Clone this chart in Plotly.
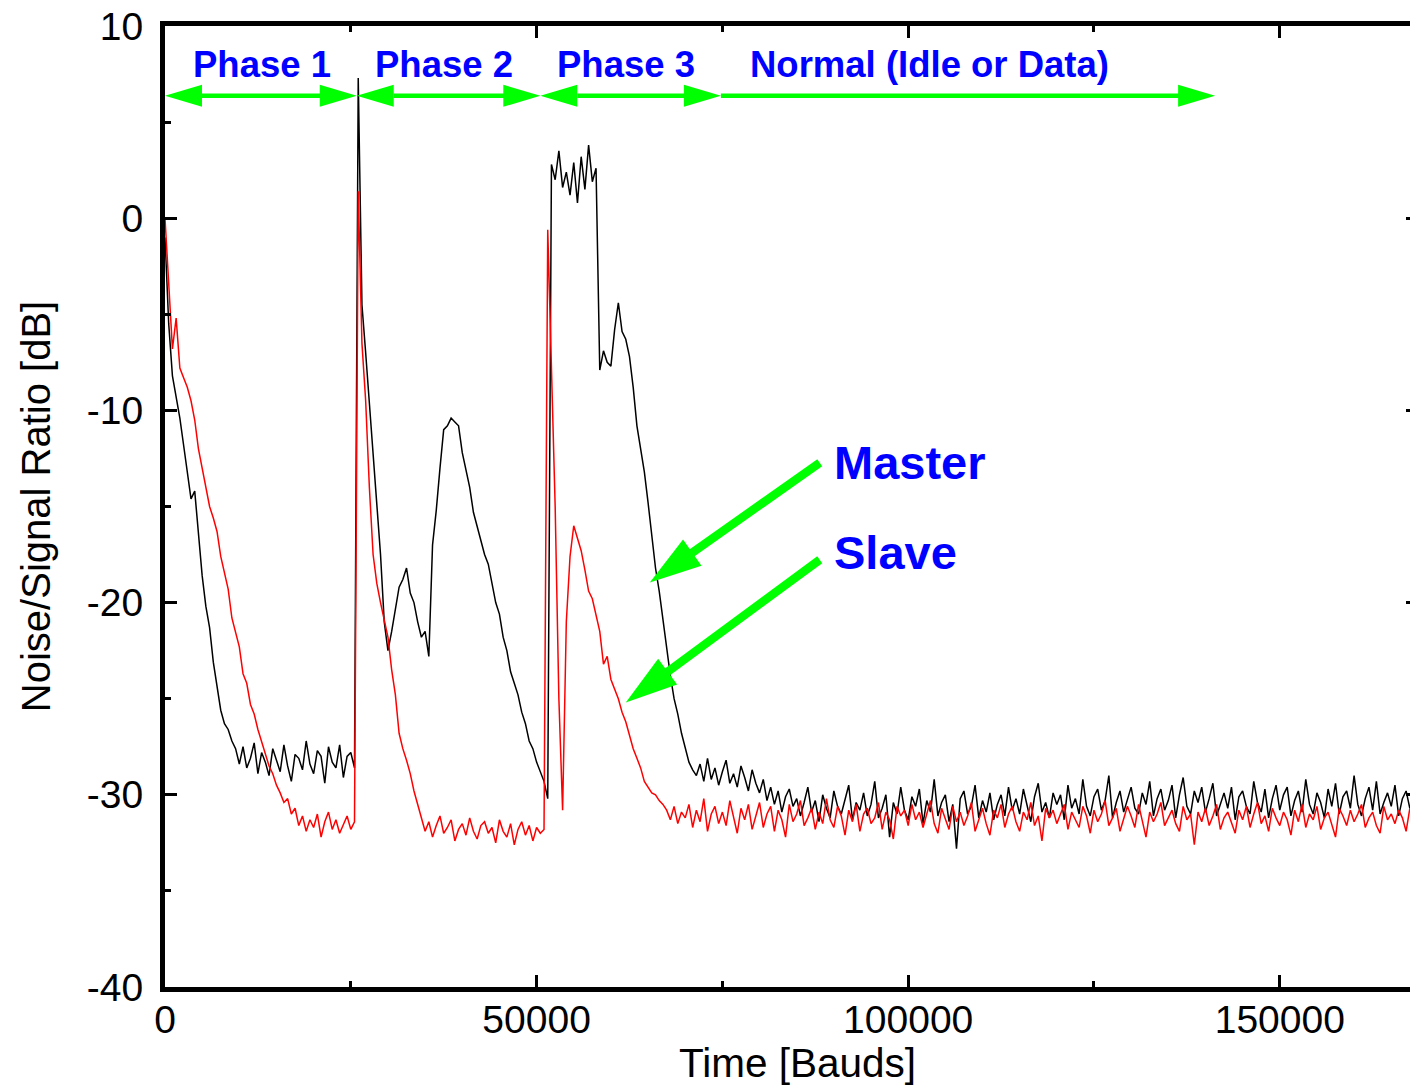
import plotly.graph_objects as go

# ---------------- data ----------------
TIME_STEP = 500  # bauds between samples

master_db = [
    -1.0, -5.5, -8.2, -9.3, -10.4, -11.8, -13.2, -14.6, -14.2, -16.3,
    -18.6, -20.2, -21.3, -23.1, -24.3, -25.6, -26.3, -26.6, -27.2, -27.6,
    -28.4, -27.5, -28.6, -28.1, -27.3, -28.9, -27.8, -28.3, -29.0, -27.6,
    -28.2, -28.8, -27.4, -28.5, -29.3, -27.9, -28.1, -28.7, -27.2, -28.4,
    -28.9, -27.7, -28.0, -29.4, -27.5, -28.3, -28.6, -27.4, -29.1, -28.0,
    -27.8, -28.6, 7.3, -4.5, -7.0, -9.5, -12.5, -14.8, -17.5, -21.0,
    -22.5, -21.5, -20.3, -19.2, -18.8, -18.2, -19.5, -20.0, -21.0, -21.8,
    -21.5, -22.8, -17.0, -15.2, -13.0, -11.0, -10.8, -10.4, -10.6, -10.8,
    -12.2, -13.2, -14.0, -15.3, -16.0, -16.8, -17.5, -18.0, -19.0, -20.0,
    -20.6, -21.8, -22.5, -23.6, -24.2, -24.8, -25.7, -26.3, -27.2, -27.6,
    -28.3, -28.8, -29.3, -30.2, 2.8, 2.0, 3.5, 1.6, 2.4, 1.2,
    2.9, 0.8, 3.2, 1.5, 3.8, 1.9, 2.6, -7.9, -6.9, -7.5,
    -7.7, -5.8, -4.4, -5.9, -6.3, -7.2, -8.8, -10.8, -12.0, -13.2,
    -14.8, -16.5, -18.2, -19.4, -20.9, -22.4, -23.8, -25.0, -25.8, -26.8,
    -27.6, -28.3, -28.7, -29.0, -28.4, -29.3, -28.1, -29.2, -28.6, -29.5,
    -28.8, -28.2, -29.4, -28.9, -29.6, -28.5, -29.1, -29.8, -28.7, -29.4,
    -29.9, -29.2, -30.3, -29.6, -30.5, -29.8, -30.9, -30.1, -29.7, -30.6,
    -30.2, -31.1, -30.4, -29.6, -30.9, -30.3, -31.4, -30.0, -30.7, -31.2,
    -29.8, -30.6, -31.0, -30.2, -29.5, -31.3, -30.4, -30.8, -29.9, -31.1,
    -30.5, -29.3, -31.2, -30.7, -30.0, -32.2, -30.4, -31.0, -29.6, -30.8,
    -31.3, -30.1, -30.6, -29.7, -31.5, -30.3, -30.9, -29.2, -31.1, -30.4,
    -30.0, -31.4, -30.5, -32.8, -30.2, -29.8, -31.0, -30.6, -29.5, -31.2,
    -30.3, -30.9, -29.9, -31.3, -30.5, -30.0, -31.1, -29.6, -30.8, -30.2,
    -31.0, -29.7, -30.6, -31.4, -30.1, -29.4, -30.9, -30.4, -31.2, -29.9,
    -30.5, -30.0, -31.3, -29.5, -30.7, -30.2, -31.0, -29.2, -30.6, -31.1,
    -30.1, -29.7, -30.8, -30.3, -29.0, -31.2, -30.4, -29.8, -30.9, -30.2,
    -29.6, -30.7, -31.0, -29.9, -30.5, -29.3, -31.1, -30.2, -29.7, -30.8,
    -30.3, -29.5, -31.2, -30.0, -29.1, -30.6, -31.0, -29.8, -30.4, -29.6,
    -30.9, -30.2, -29.4, -31.1, -30.5, -29.9, -30.7, -29.6, -31.3, -30.1,
    -29.8, -30.6, -31.0, -29.3, -30.4, -30.9, -29.7, -31.2, -30.2, -29.5,
    -30.8, -30.0, -29.6, -31.1, -30.3, -29.8, -30.9, -29.2, -30.5, -31.0,
    -29.9, -30.4, -31.2, -29.7, -30.6, -29.4, -31.0, -30.1, -29.8, -30.7,
    -29.0, -30.5, -31.1, -30.2, -29.6, -30.8, -29.3, -31.0, -30.4, -29.9,
    -30.6, -29.5, -31.1, -30.2, -29.8, -30.7, -30.0, -30.4,
]

slave_db = [
    0.0, -3.5, -6.8, -5.2, -7.8, -8.3, -8.8, -9.5, -10.5, -12.0,
    -13.0, -13.8, -15.0, -15.6, -16.3, -17.6, -18.5, -19.3, -20.8, -21.6,
    -22.3, -23.7, -24.2, -25.3, -25.8, -26.6, -27.2, -27.8, -28.5, -28.9,
    -29.5, -29.9, -30.4, -30.2, -31.0, -30.7, -31.6, -31.1, -31.9, -31.3,
    -31.7, -31.0, -32.2, -31.4, -30.9, -31.8, -31.3, -32.0, -31.5, -31.1,
    -31.8, -31.4, 1.4, -6.5, -9.5, -14.0, -17.5, -19.0, -20.0, -21.0,
    -21.8, -23.5, -24.8, -26.8, -27.6, -28.2, -28.9, -29.8, -30.5, -31.2,
    -31.9, -31.4, -32.2, -31.6, -31.1, -32.0, -31.7, -31.3, -32.4, -31.8,
    -31.5, -32.1, -31.2, -31.9, -32.3, -31.6, -31.4, -32.0, -31.7, -32.5,
    -31.3, -31.9, -32.2, -31.5, -32.6, -31.8, -31.4, -32.1, -31.6, -32.4,
    -31.7, -32.0, -31.8, -0.6, -8.0, -15.0, -25.0, -30.8, -21.0, -17.6,
    -16.0, -16.6, -17.3, -18.3, -19.4, -19.8, -20.6, -21.5, -23.2, -22.8,
    -24.0, -24.5, -25.0, -25.7, -26.2, -26.9, -27.6, -28.1, -28.6, -29.3,
    -29.6, -29.9, -30.0, -30.3, -30.5, -30.8, -31.3, -30.6, -31.5, -30.9,
    -31.2, -30.5, -31.7, -30.8, -31.4, -30.2, -31.9, -31.0, -30.6, -31.5,
    -30.9, -31.6, -30.3, -31.2, -32.0, -30.7, -31.3, -30.5, -31.8, -31.1,
    -30.4, -31.7, -31.0, -30.6, -31.9, -30.8, -31.3, -32.2, -30.5, -31.4,
    -31.0, -30.3, -31.6, -31.2, -30.7, -31.8, -30.9, -31.5, -30.2, -31.3,
    -31.7, -30.6, -31.1, -32.1, -30.8, -31.4, -30.5, -31.9, -31.0, -30.7,
    -31.5, -31.2, -30.4, -31.8, -30.9, -31.3, -32.3, -30.6, -31.1, -30.8,
    -31.6, -30.5, -31.3, -30.9, -31.7, -31.0, -30.3, -31.5, -32.0, -30.7,
    -31.2, -31.8, -30.6, -31.4, -30.9, -31.6, -31.1, -30.4, -31.9, -31.3,
    -30.7, -31.5, -32.1, -30.8, -31.2, -30.5, -31.7, -31.0, -30.6, -31.4,
    -31.9, -30.9, -31.3, -30.4, -31.6, -31.1, -32.4, -30.7, -31.2, -30.8,
    -31.5, -31.0, -30.5, -31.8, -30.9, -31.3, -31.7, -30.6, -31.1, -32.0,
    -30.8, -31.4, -31.0, -30.3, -31.6, -31.2, -30.7, -31.9, -31.3, -30.6,
    -31.1, -31.7, -30.5, -31.3, -32.2, -30.9, -31.4, -31.0, -30.4, -31.6,
    -31.2, -30.8, -31.5, -31.9, -30.6, -31.3, -31.0, -32.6, -30.9, -31.4,
    -30.7, -31.6, -31.1, -30.5, -31.8, -31.2, -30.9, -31.5, -32.0, -30.8,
    -31.3, -30.6, -31.7, -31.0, -30.4, -31.5, -31.1, -31.9, -30.7, -31.2,
    -31.6, -30.9, -31.3, -32.1, -30.8, -31.4, -30.5, -31.7, -31.0, -31.3,
    -30.6, -31.8, -31.2, -30.9, -31.5, -32.2, -30.7, -31.1, -31.6, -30.8,
    -31.4, -31.0, -30.5, -31.7, -31.2, -30.9, -31.6, -32.0, -30.6, -31.3,
    -31.0, -31.5, -30.8, -31.2, -31.9, -30.7, -31.3, -31.1,
]

time_bauds = [i * TIME_STEP for i in range(len(master_db))]

# tick labels (hyphen minus as in the original)
x_tick_vals = [0, 50000, 100000, 150000]
x_tick_text = ["0", "50000", "100000", "150000"]
y_tick_vals = [-40, -30, -20, -10, 0, 10]
y_tick_text = ["-40", "-30", "-20", "-10", "0", "10"]

# phase segments (bauds) and labels
phase_bounds = [0, 25800, 50500, 74800, 141300]
phase_labels = ["Phase 1", "Phase 2", "Phase 3", "Normal (Idle or Data)"]
phase_label_x = [13000, 37500, 62000, 102900]
phase_arrow_db = 6.37
phase_label_db = 8.0

# pointer annotations
pointer_names = ["Master", "Slave"]
pointer_tail_x = [88100, 88100]
pointer_tail_db = [-12.72, -17.77]
pointer_tip_x = [65230, 62000]
pointer_tip_db = [-18.96, -25.2]
pointer_label_x = 89800
pointer_label_db = [-12.7, -17.4]

x_range = [0, 168600]
y_range = [-40, 10]

# ---------------- layout geometry ----------------
# the page body has an 8px margin, so the figure is 8px smaller than the window
W, H = 1410, 1078
ML, MR, MT, MB = 157, 0, 18, 99
PW, PH = W - ML - MR, H - MT - MB


def d2p(x, y):
    px = ML + (x - x_range[0]) / (x_range[1] - x_range[0]) * PW
    py = MT + (y_range[1] - y) / (y_range[1] - y_range[0]) * PH
    return px, py


def p2d(px, py):
    x = x_range[0] + (px - ML) / PW * (x_range[1] - x_range[0])
    y = y_range[1] - (py - MT) / PH * (y_range[1] - y_range[0])
    return x, y


GREEN = "#00FF00"
shapes = []


def add_arrow(tail, tip, head_len, head_half, width, double=False):
    tx, ty = d2p(*tail)
    hx, hy = d2p(*tip)
    dx, dy = hx - tx, hy - ty
    L = (dx * dx + dy * dy) ** 0.5
    ux, uy = dx / L, dy / L
    nx, ny = -uy, ux

    def head(px, py, sx, sy):
        bx, by = px - sx * head_len, py - sy * head_len
        pts = [(px, py), (bx + nx * head_half, by + ny * head_half),
               (bx - nx * head_half, by - ny * head_half)]
        d = [p2d(*p) for p in pts]
        path = "M {},{} L {},{} L {},{} Z".format(d[0][0], d[0][1], d[1][0], d[1][1], d[2][0], d[2][1])
        shapes.append(dict(type="path", path=path, fillcolor=GREEN,
                           line=dict(color=GREEN, width=0), layer="above"))
        return bx, by

    ex, ey = head(hx, hy, ux, uy)
    sx, sy = tx, ty
    if double:
        sx, sy = head(tx, ty, -ux, -uy)
    a = p2d(sx, sy)
    b = p2d(ex + ux * 1, ey + uy * 1)
    shapes.append(dict(type="line", x0=a[0], y0=a[1], x1=b[0], y1=b[1],
                       line=dict(color=GREEN, width=width), layer="above"))


for i in range(3):
    add_arrow((phase_bounds[i], phase_arrow_db), (phase_bounds[i + 1], phase_arrow_db),
              37, 11, 4.5, double=True)
add_arrow((phase_bounds[3], phase_arrow_db), (phase_bounds[4], phase_arrow_db),
          37, 11, 4.5, double=False)

for i in range(2):
    add_arrow((pointer_tail_x[i], pointer_tail_db[i]), (pointer_tip_x[i], pointer_tip_db[i]),
              52, 16, 8.5)

# ---------------- figure ----------------
FONT = "Liberation Sans, Arial, Helvetica, sans-serif"

fig = go.Figure()
fig.add_trace(go.Scatter(x=time_bauds, y=master_db, mode="lines", name="Master",
                         line=dict(color="black", width=1.5)))
fig.add_trace(go.Scatter(x=time_bauds, y=slave_db, mode="lines", name="Slave",
                         line=dict(color="red", width=1.5)))

annotations = []
for lab, lx in zip(phase_labels, phase_label_x):
    annotations.append(dict(x=lx, y=phase_label_db, text="<b>%s</b>" % lab, showarrow=False,
                            xanchor="center", yanchor="middle",
                            font=dict(family=FONT, size=36.5, color="#0000FF")))
for name, ly in zip(pointer_names, pointer_label_db):
    annotations.append(dict(x=pointer_label_x, y=ly, text="<b>%s</b>" % name, showarrow=False,
                            xanchor="left", yanchor="middle",
                            font=dict(family=FONT, size=47, color="#0000FF")))
# x-axis title (placed as a paper annotation so it can sit slightly right of centre)
annotations.append(dict(xref="paper", yref="paper", x=(797 - 8 - ML) / PW, y=-76 / PH,
                        text="Time [Bauds]", showarrow=False, xanchor="center", yanchor="middle",
                        font=dict(family=FONT, size=40.5, color="black")))

axis_common = dict(
    showline=True, linewidth=5, linecolor="black", mirror="allticks",
    ticks="inside", ticklen=12, tickwidth=2.5, tickcolor="black",
    showgrid=False, zeroline=False, ticklabeloverflow="allow", automargin=False,
    tickfont=dict(family=FONT, size=39, color="black"),
)

fig.update_layout(
    width=W, height=H,
    margin=dict(l=ML, r=MR, t=MT, b=MB, pad=0),
    paper_bgcolor="white", plot_bgcolor="white",
    showlegend=False,
    font=dict(family=FONT, color="black"),
    xaxis=dict(range=x_range, tickmode="array", tickvals=x_tick_vals, ticktext=x_tick_text,
               minor=dict(dtick=25000, tick0=0, ticks="inside", ticklen=6, tickwidth=2.5, tickcolor="black"),
               ticklabelstandoff=-6,
               **axis_common),
    yaxis=dict(range=y_range, tickmode="array", tickvals=y_tick_vals, ticktext=y_tick_text,
               minor=dict(dtick=5, tick0=0, ticks="inside", ticklen=6, tickwidth=2.5, tickcolor="black"),
               title=dict(text="Noise/Signal Ratio [dB]", font=dict(family=FONT, size=40, color="black"), standoff=25),
               ticklabelstandoff=9,
               **axis_common),
    shapes=shapes,
    annotations=annotations,
)

fig.write_html("out.html")
